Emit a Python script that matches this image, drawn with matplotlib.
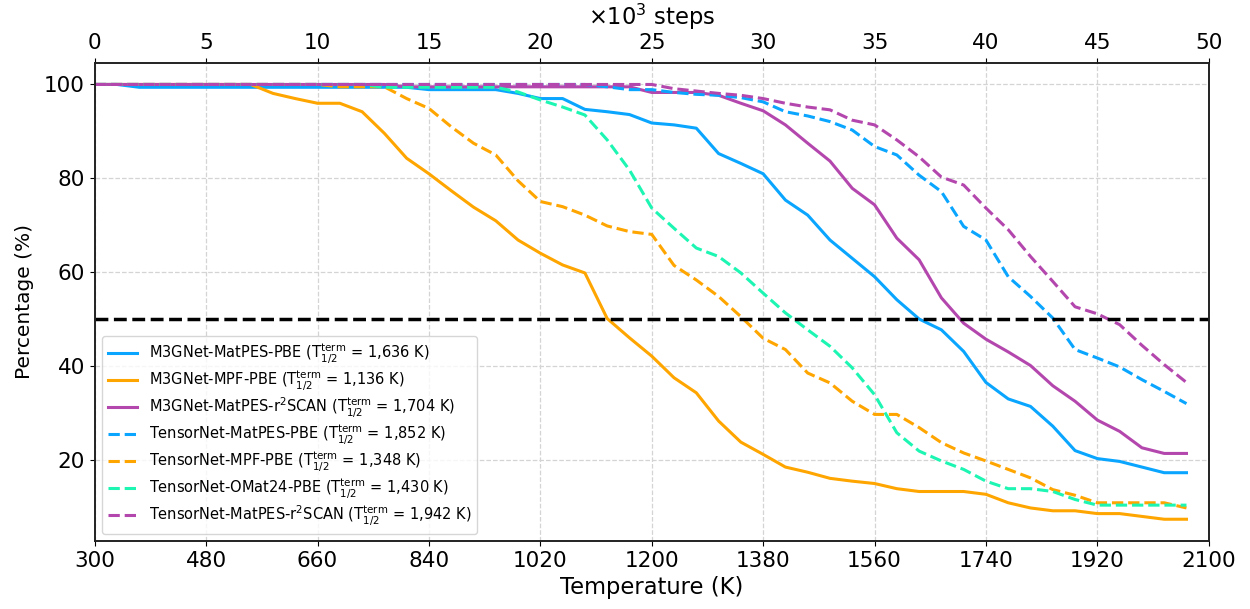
import numpy as np
import matplotlib
matplotlib.use("Agg")
import matplotlib.pyplot as plt

# MD steps (x10^3) and the corresponding temperature ramp
steps = np.arange(50)
temperature = 300 + 36 * steps

m3g_matpes_pbe = [100, 100, 99.4, 99.4, 99.4, 99.4, 99.4, 99.4, 99.4, 99.4,
                  99.4, 99.4, 99.4, 99.4, 99.4, 98.9, 98.9, 98.9, 98.9, 98.1,
                  97.0, 97.0, 94.7, 94.2, 93.6, 91.8, 91.4, 90.7, 85.3, 83.2,
                  81.0, 75.4, 72.2, 66.9, 63.0, 59.1, 54.2, 50.1, 47.8, 43.2,
                  36.6, 33.1, 31.5, 27.3, 22.1, 20.4, 19.8, 18.6, 17.4, 17.4]

m3g_mpf_pbe = [100, 100, 100, 100, 100, 100, 100, 100, 98.1, 97.0,
               96.0, 96.0, 94.2, 89.6, 84.3, 81.0, 77.4, 73.9, 71.0, 66.9,
               64.1, 61.6, 59.9, 50.2, 46.1, 42.2, 37.6, 34.4, 28.4, 23.9,
               21.3, 18.6, 17.5, 16.2, 15.6, 15.1, 14.0, 13.4, 13.4, 13.4,
               12.8, 11.0, 9.9, 9.3, 9.3, 8.7, 8.7, 8.1, 7.5, 7.5]

m3g_matpes_r2scan = [100, 100, 100, 100, 100, 100, 100, 100, 100, 100,
                     100, 100, 100, 100, 99.5, 99.5, 99.5, 99.5, 99.5, 99.5,
                     99.5, 99.5, 99.5, 99.5, 99.5, 98.3, 98.3, 98.3, 97.7, 96.0,
                     94.4, 91.4, 87.5, 83.7, 77.9, 74.4, 67.3, 62.7, 54.6, 49.2,
                     45.8, 43.1, 40.2, 35.9, 32.6, 28.6, 26.2, 22.7, 21.5, 21.5]

tn_matpes_pbe = [100, 100, 100, 100, 100, 100, 100, 100, 100, 100,
                 100, 100, 100, 100, 100, 100, 100, 100, 100, 100,
                 100, 100, 100, 99.5, 98.9, 98.9, 98.3, 97.9, 97.7, 97.2,
                 96.3, 94.2, 93.3, 92.1, 90.3, 86.8, 85.0, 80.7, 77.2, 69.8,
                 66.9, 59.1, 54.9, 50.3, 43.6, 41.8, 39.9, 37.2, 34.7, 32.1]

tn_mpf_pbe = [100, 100, 100, 100, 100, 100, 100, 100, 100, 100,
              100, 99.5, 99.5, 99.5, 97.0, 94.9, 91.0, 87.5, 85.0, 79.5,
              75.1, 74.0, 72.2, 69.9, 68.7, 68.1, 61.5, 58.4, 54.9, 50.6,
              46.0, 43.6, 38.6, 36.5, 32.6, 29.8, 29.8, 27.0, 23.8, 21.6,
              19.9, 18.1, 16.3, 13.8, 12.6, 11.0, 11.0, 11.0, 11.0, 9.9]

tn_omat24_pbe = [100, 100, 100, 100, 100, 100, 100, 100, 100, 100,
                 100, 100, 100, 99.4, 99.4, 99.4, 99.4, 99.4, 99.4, 98.4,
                 96.7, 95.2, 93.5, 88.2, 81.8, 73.7, 69.4, 65.2, 63.4, 59.9,
                 55.6, 51.4, 47.8, 44.3, 39.7, 34.0, 25.9, 22.0, 19.9, 18.1,
                 15.6, 14.0, 14.0, 13.4, 11.7, 10.5, 10.5, 10.5, 10.5, 10.5]

tn_matpes_r2scan = [100, 100, 100, 100, 100, 100, 100, 100, 100, 100,
                    100, 100, 100, 100, 100, 100, 100, 100, 100, 100,
                    100, 100, 100, 100, 100, 100, 99.1, 98.6, 98.1, 97.7,
                    97.0, 96.0, 95.2, 94.6, 92.4, 91.4, 88.2, 84.6, 80.3, 78.6,
                    73.7, 69.1, 63.4, 58.1, 52.7, 51.2, 48.9, 44.5, 40.4, 36.6]

names = ["M3GNet-MatPES-PBE", "M3GNet-MPF-PBE", "M3GNet-MatPES-r$^2$SCAN",
         "TensorNet-MatPES-PBE", "TensorNet-MPF-PBE", "TensorNet-OMat24-PBE",
         "TensorNet-MatPES-r$^2$SCAN"]
t_half = ["1,636", "1,136", "1,704", "1,852", "1,348", "1,430", "1,942"]
series = [m3g_matpes_pbe, m3g_mpf_pbe, m3g_matpes_r2scan,
          tn_matpes_pbe, tn_mpf_pbe, tn_omat24_pbe, tn_matpes_r2scan]

colors = ["#0AA5FF", "#FFA500", "#B447AE", "#0AA5FF", "#FFA500", "#1DF5B3", "#B447AE"]
styles = ["-", "-", "-", "--", "--", "--", "--"]

fig = plt.figure(figsize=(12.5, 6.09), dpi=100)
ax = fig.add_axes([0.0758, 0.1117, 0.8912, 0.7853])

for name, th, y, c, ls in zip(names, t_half, series, colors, styles):
    label = name + r" ($\mathrm{T}^{\mathrm{term}}_{1/2}$ = " + th + " K)"
    ax.plot(temperature, y, color=c, linestyle=ls, linewidth=2.2, label=label)

ax.axhline(50, color="black", linestyle="--", linewidth=2.5)

ax.set_xlim(300, 2100)
ax.set_xticks(np.arange(300, 2101, 180))
ax.set_yticks([20, 40, 60, 80, 100])
ax.tick_params(labelsize=15.5)
ax.set_xlabel("Temperature (K)", fontsize=16.3, labelpad=4)
ax.set_ylabel("Percentage (%)", fontsize=14.5, labelpad=7)
ax.grid(True, linestyle="--", color="#d4d4d4", linewidth=0.9)

ax2 = ax.twiny()
ax2.set_xlim(0, 50)
ax2.set_xticks(np.arange(0, 51, 5))
ax2.tick_params(labelsize=15.5)
ax2.set_xlabel(r"$\times10^3$ steps", fontsize=16.3, labelpad=6)

for a in (ax, ax2):
    for sp in a.spines.values():
        sp.set_color("#222222")
        sp.set_linewidth(1.2)

ax.legend(loc="lower left", fontsize=10.5, framealpha=0.8, labelspacing=0.17,
          bbox_to_anchor=(0.0, 0.0), borderaxespad=0.5)

fig.savefig("out.png", dpi=100)
